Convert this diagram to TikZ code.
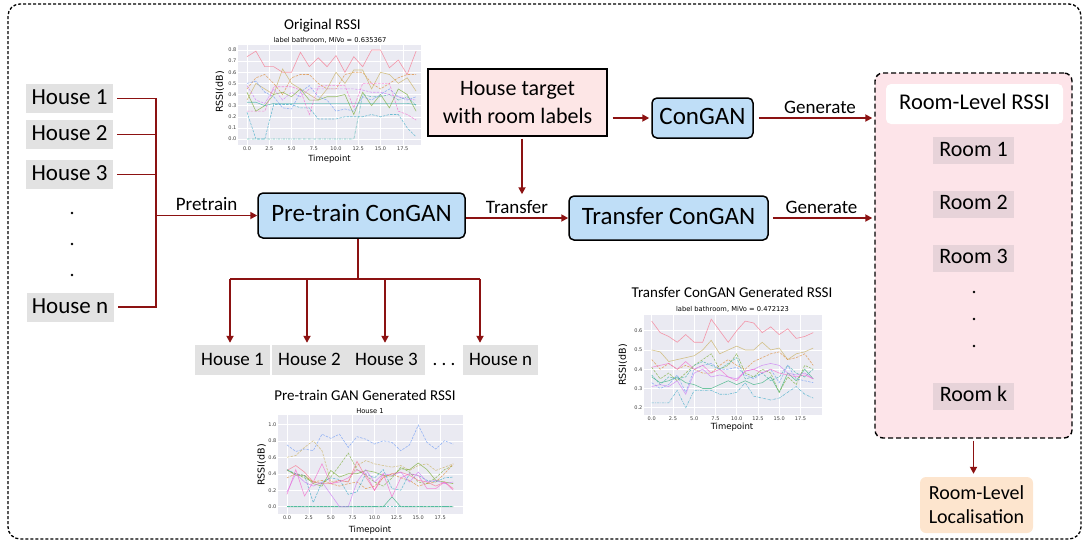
\documentclass[tikz,border=0pt]{standalone}
\usepackage{fontspec}
\setmainfont{Carlito}
\newfontfamily\mplfont{DejaVu Sans}
\usetikzlibrary{arrows.meta}
\definecolor{darkred}{RGB}{140,18,18}
\definecolor{housegray}{RGB}{226,226,226}
\definecolor{boxblue}{RGB}{191,222,247}
\definecolor{targetpink}{RGB}{253,230,230}
\definecolor{roompink}{RGB}{253,228,233}
\definecolor{roomitem}{RGB}{231,211,217}
\definecolor{locorange}{RGB}{253,229,206}
\definecolor{plotbg}{RGB}{234,234,242}
\definecolor{tickgray}{RGB}{60,60,60}
\definecolor{cA}{HTML}{F77189}
\definecolor{cB}{HTML}{DC8932}
\definecolor{cC}{HTML}{C8AE5A}
\definecolor{cD}{HTML}{77AB31}
\definecolor{cE}{HTML}{33B07A}
\definecolor{cF}{HTML}{36ADA4}
\definecolor{cG}{HTML}{38A9C5}
\definecolor{cH}{HTML}{6E9BF4}
\definecolor{cI}{HTML}{CC7AF4}
\definecolor{cJ}{HTML}{F565CC}
\newcommand\fsz[2]{\fontsize{#1}{#2}\selectfont}
\newcommand\rssiline[3]{\draw[#1] (0,#2) \foreach \v [count=\i] in {#3} { -- (\i,\v) };}
\tikzset{
  ln/.style={draw=darkred, line width=1.7pt},
  arr/.style={ln, -{Triangle[length=7pt,width=7pt]}},
  outerframe/.style={draw=black, line width=1.3pt, dash pattern=on 3pt off 2pt, rounded corners=12pt},
  hbig/.style={fill=housegray, minimum width=87pt, minimum height=29pt, inner sep=0pt, font=\fsz{23}{26}, text height=15pt, text depth=3pt},
  hsmall/.style={fill=housegray, minimum height=30pt, inner sep=0pt, font=\fsz{19}{22}, text height=13pt, text depth=3pt},
  bluebox/.style={draw=black, line width=1.5pt, fill=boxblue, rounded corners=5pt, inner sep=0pt, font=\fsz{25}{28}, text height=16pt, text depth=4pt},
  targetbox/.style={draw=black, line width=1.2pt, fill=targetpink, inner sep=0pt, minimum width=179pt, minimum height=67pt, align=center, font=\fsz{22}{28}},
  roomframe/.style={draw=black, line width=1.4pt, dash pattern=on 5pt off 3pt, fill=roompink, rounded corners=8pt, inner sep=0pt},
  rlrbox/.style={fill=white, rounded corners=5pt, minimum width=177pt, minimum height=40pt, inner sep=0pt, font=\fsz{22.5}{25}, text height=15pt, text depth=4pt},
  roomitembox/.style={fill=roomitem, minimum width=81pt, minimum height=27pt, inner sep=0pt, font=\fsz{22}{24}, text height=14pt, text depth=3pt},
  locbox/.style={fill=locorange, rounded corners=6pt, minimum width=113pt, minimum height=56pt, inner sep=0pt, align=center, font=\fsz{20}{24}},
  lbl/.style={font=\fsz{19}{22}, inner sep=1pt, above=3pt},
  ctitle/.style={font=\fsz{15}{17}, inner sep=0pt},
  csub/.style={font=\mplfont\fsz{6.7}{8}, inner sep=0pt},
  ctick/.style={font=\mplfont\fsz{5}{6}, text=tickgray, inner sep=1.5pt},
  caxis/.style={font=\mplfont\fsz{8.5}{10}, inner sep=0pt},
  cyaxis/.style={font=\mplfont\fsz{9.5}{10}, inner sep=0pt, rotate=90},
  grid/.style={draw=white, line width=0.5pt},
  sl/.style={line width=0.6pt, opacity=0.7},
  sd/.style={line width=0.6pt, opacity=0.7, dash pattern=on 2.5pt off 1.2pt},
  sdd/.style={line width=0.6pt, opacity=0.7, dash pattern=on 2.5pt off 1pt on 0.6pt off 1pt},
}
\begin{document}
\begin{tikzpicture}[x=1pt,y=-1pt]
\useasboundingbox (0,0) rectangle (1086,542);
\draw[outerframe] (8,4) rectangle (1081,539);

% ---------- left houses ----------
\node[hbig] (h1) at (69.5,98.5) {House 1};
\node[hbig] (h2) at (69.5,134.5) {House 2};
\node[hbig] (h3) at (69.5,174.5) {House 3};
\node[hbig] (hn) at (70,307) {House n};
\fill (72,213) circle (1.4pt);
\fill (72,244) circle (1.4pt);
\fill (72,275) circle (1.4pt);

% ---------- main boxes ----------
\node[bluebox, minimum width=207pt, minimum height=45pt] (pre) at (361.5,215.5) {Pre-train ConGAN};
\node[bluebox, minimum width=199pt, minimum height=44pt] (tcg) at (668.5,218) {Transfer ConGAN};
\node[bluebox, minimum width=101pt, minimum height=40pt] (cg) at (702.5,118) {ConGAN};
\node[targetbox] (tgt) at (517.5,102.5) {House target\\with room labels};

% ---------- room box ----------
\node[roomframe, minimum width=197pt, minimum height=365pt] (rb) at (973.5,255.5) {};
\node[rlrbox] (rlr) at (974.5,104) {Room-Level RSSI};
\node[roomitembox] (r1) at (973.5,150.5) {Room 1};
\node[roomitembox] (r2) at (973.5,204) {Room 2};
\node[roomitembox] (r3) at (973.5,258) {Room 3};
\node[roomitembox] (rk) at (973.5,396) {Room k};
\fill (974,292) circle (1.3pt);
\fill (974,319) circle (1.3pt);
\fill (974,346) circle (1.3pt);
\node[locbox] (loc) at (976.5,505) {Room-Level\\Localisation};

% ---------- bottom houses ----------
\node[hsmall, minimum width=75pt] (b1) at (232.5,360) {House 1};
\node[hsmall, minimum width=76pt] (b2) at (309.5,360) {House 2};
\node[hsmall, minimum width=77pt] (b3) at (386.5,360) {House 3};
\node[hsmall, fill=none, minimum width=30pt] (bd) at (444,360) {.\ .\ .};
\node[hsmall, minimum width=75pt] (bn) at (500.5,360) {House n};

% ---------- connectors ----------
\coordinate (bus) at (156,216);
\draw[ln] ([xshift=4pt]h1.east) -- (h1.east -| bus) -- (hn.east -| bus) -- ([xshift=4pt]hn.east);
\draw[ln] ([xshift=4pt]h2.east) -- (h2.east -| bus);
\draw[ln] ([xshift=4pt]h3.east) -- (h3.east -| bus);
\draw[arr] (bus |- pre.west) -- (pre.west) node[midway, lbl] {Pretrain};
\draw[arr] (pre.east |- tcg.west) -- (tcg.west) node[midway, lbl] {Transfer};
\draw[arr, shorten <=2pt, shorten >=1pt] ([xshift=4.5pt]tgt.south) -- ([xshift=4.5pt]tgt.south |- tcg.north);
\draw[arr, shorten <=5pt, shorten >=2pt] (tgt.east |- cg.west) -- (cg.west);
\draw[arr, shorten <=5pt, shorten >=2pt] (cg.east) -- (cg.east -| rb.west) node[pos=0.55, lbl] {Generate};
\draw[arr, shorten <=4pt, shorten >=2pt] (tcg.east) -- (tcg.east -| rb.west) node[midway, lbl] {Generate};
\draw[arr, shorten <=2pt, shorten >=3pt] (rb.south) -- (rb.south |- loc.north);

\coordinate (split) at (358,279);
\draw[ln] (pre.south -| split) -- (split);
\draw[ln] ([xshift=-2.5pt]b1.north |- split) -- ([xshift=-20.5pt]bn.north |- split);
\draw[arr, shorten >=2pt] ([xshift=-2.5pt]b1.north |- split) -- ([xshift=-2.5pt]b1.north);
\draw[arr, shorten >=2pt] ([xshift=-2.5pt]b2.north |- split) -- ([xshift=-2.5pt]b2.north);
\draw[arr, shorten >=2pt] ([xshift=-1.5pt]b3.north |- split) -- ([xshift=-1.5pt]b3.north);
\draw[arr, shorten >=2pt] ([xshift=-20.5pt]bn.north |- split) -- ([xshift=-20.5pt]bn.north);

% ---------- chart: Original RSSI ----------
\node[ctitle] (t1) at (322.5,26) {Original RSSI};
\node[csub] (s1) at (330,40.5) {label bathroom, MiVo = 0.635367};
\fill[plotbg] (238,45) rectangle (421,145);
\node[caxis] (x1) at (329.5,159) {Timepoint};
\node[cyaxis] (y1) at (220,92) {RSSI(dB)};
\begin{scope}[shift={(247,139)}, x=8.9pt, y=111.25pt]
  \foreach \v in {0.0,0.1,0.2,0.3,0.4,0.5,0.6,0.7,0.8} {
    \draw[grid] (-1.01,\v) -- (19.55,\v);
    \node[ctick, anchor=east] at (-1.01,\v) {\v};
  }
  \foreach \t in {0.0,2.5,5.0,7.5,10.0,12.5,15.0,17.5} {
    \draw[grid] (\t,-0.054) -- (\t,0.845);
    \node[ctick, anchor=north] at (\t,-0.054) {\t};
  }
  \rssiline{sl,cA}{0.74}{0.79,0.65,0.65,0.6,0.6,0.78,0.65,0.73,0.65,0.75,0.6,0.74,0.65,0.8,0.8,0.64,0.71,0.58,0.79}
  \rssiline{sd,cB}{0.45}{0.55,0.58,0.5,0.4,0.55,0.58,0.58,0.5,0.45,0.45,0.58,0.6,0.6,0.5,0.45,0.5,0.55,0.58,0.58}
  \rssiline{sl,cC}{0.35}{0.5,0.45,0.4,0.63,0.5,0.45,0.4,0.35,0.45,0.6,0.5,0.62,0.62,0.45,0.6,0.58,0.5,0.55,0.43}
  \rssiline{sl,cD}{0.42}{0.25,0.3,0.4,0.42,0.38,0.45,0.35,0.35,0.38,0.38,0.4,0.22,0.42,0.3,0.4,0.28,0.45,0.4,0.25}
  \rssiline{sl,cF}{0.33}{0.33,0.3,0.32,0.32,0.32,0.32,0.32,0.32,0.32,0.32,0.32,0.32,0.32,0.32,0.32,0.32,0.32,0.32,0.31}
  \rssiline{sdd,cF}{0.0}{0.0,0.0,0.0,0.0,0.0,0.0,0.0,0.0,0.0,0.0,0.0,0.0,0.4,0.38,0.38,0.4,0.35,0.38,0.3}
  \rssiline{sd,cG}{0.24}{0.0,0.0,0.31,0.31,0.31,0.28,0.28,0.18,0.18,0.18,0.2,0.2,0.2,0.22,0.2,0.22,0.22,0.1,0.02}
  \rssiline{sd,cH}{0.5}{0.52,0.42,0.38,0.28,0.27,0.42,0.48,0.38,0.35,0.25,0.27,0.25,0.38,0.35,0.4,0.45,0.38,0.35,0.38}
  \rssiline{sd,cI}{0.48}{0.35,0.32,0.45,0.35,0.42,0.38,0.45,0.45,0.45,0.45,0.45,0.45,0.44,0.42,0.42,0.4,0.38,0.36,0.35}
  \rssiline{sd,cJ}{0.25}{0.25,0.25,0.47,0.47,0.47,0.44,0.22,0.47,0.48,0.48,0.48,0.28,0.5,0.5,0.5,0.5,0.25,0.22,0.17}
\end{scope}

% ---------- chart: Pre-train GAN Generated RSSI ----------
\node[ctitle] (t2) at (365,395.5) {Pre-train GAN Generated RSSI};
\node[csub] (s2) at (370,411) {House 1};
\fill[plotbg] (278,415) rectangle (463,514);
\node[caxis] (x2) at (370,530) {Timepoint};
\node[cyaxis] (y2) at (261.7,465) {RSSI(dB)};
\begin{scope}[shift={(287,506.7)}, x=8.75pt, y=82.4pt]
  \foreach \v in {0.0,0.2,0.4,0.6,0.8,1.0} {
    \draw[grid] (-1.03,\v) -- (20.1,\v);
    \node[ctick, anchor=east] at (-1.03,\v) {\v};
  }
  \foreach \t in {0.0,2.5,5.0,7.5,10.0,12.5,15.0,17.5} {
    \draw[grid] (\t,-0.089) -- (\t,1.11);
    \node[ctick, anchor=north] at (\t,-0.089) {\t};
  }
  \rssiline{sd,cH}{0.75}{0.67,0.7,0.68,0.88,0.83,0.88,0.72,0.85,0.82,0.76,0.8,0.78,0.68,0.75,0.99,0.78,0.7,0.8,0.76}
  \rssiline{sd,cC}{0.6}{0.62,0.72,0.8,0.68,0.3,0.32,0.3,0.5,0.56,0.52,0.5,0.48,0.5,0.44,0.5,0.52,0.44,0.48,0.52}
  \rssiline{sl,cD}{0.45}{0.38,0.38,0.28,0.25,0.44,0.36,0.4,0.4,0.44,0.42,0.38,0.37,0.46,0.45,0.53,0.45,0.32,0.3,0.28}
  \rssiline{sd,cD}{0.44}{0.4,0.35,0.3,0.28,0.36,0.5,0.65,0.45,0.38,0.3,0.25,0.35,0.48,0.42,0.3,0.28,0.35,0.45,0.5}
  \rssiline{sl,cA}{0.44}{0.5,0.42,0.3,0.28,0.28,0.32,0.3,0.55,0.36,0.2,0.36,0.4,0.42,0.38,0.32,0.3,0.25,0.3,0.22}
  \rssiline{sd,cB}{0.35}{0.4,0.38,0.3,0.32,0.28,0.25,0.28,0.3,0.22,0.25,0.35,0.4,0.35,0.32,0.25,0.28,0.3,0.4,0.52}
  \rssiline{sd,cF}{0.0}{0.0,0.0,0.0,0.0,0.0,0.0,0.0,0.0,0.0,0.0,0.0,0.0,0.0,0.0,0.0,0.0,0.0,0.0,0.0}
  \rssiline{sl,cE}{0.0}{0.0,0.0,0.0,0.0,0.0,0.0,0.0,0.0,0.0,0.0,0.0,0.12,0.0,0.0,0.0,0.0,0.0,0.0,0.0}
  \rssiline{sd,cG}{0.45}{0.4,0.38,0.05,0.3,0.35,0.33,0.15,0.18,0.4,0.35,0.45,0.22,0.2,0.4,0.38,0.32,0.3,0.35,0.36}
  \rssiline{sl,cI}{0.18}{0.4,0.3,0.25,0.3,0.15,0.0,0.0,0.3,0.45,0.3,0.4,0.38,0.42,0.3,0.42,0.3,0.32,0.28,0.3}
  \rssiline{sl,cJ}{0.15}{0.45,0.13,0.3,0.52,0.28,0.3,0.35,0.45,0.4,0.2,0.4,0.12,0.35,0.4,0.38,0.22,0.22,0.3,0.2}
\end{scope}

% ---------- chart: Transfer ConGAN Generated RSSI ----------
\node[ctitle] (t3) at (732,292) {Transfer ConGAN Generated RSSI};
\node[csub] (s3) at (732.5,309) {label bathroom, MiVo = 0.472123};
\fill[plotbg] (644,315) rectangle (822,415);
\node[caxis] (x3) at (732,427) {Timepoint};
\node[cyaxis] (y3) at (623,365) {RSSI(dB)};
\begin{scope}[shift={(651.7,446.2)}, x=8.5pt, y=192.5pt]
  \foreach \v in {0.2,0.3,0.4,0.5,0.6} {
    \draw[grid] (-0.9,\v) -- (20.0,\v);
    \node[ctick, anchor=east] at (-0.9,\v) {\v};
  }
  \foreach \t in {0.0,2.5,5.0,7.5,10.0,12.5,15.0,17.5} {
    \draw[grid] (\t,0.162) -- (\t,0.681);
    \node[ctick, anchor=north] at (\t,0.162) {\t};
  }
  \rssiline{sl,cA}{0.65}{0.59,0.57,0.54,0.58,0.54,0.54,0.66,0.6,0.54,0.6,0.65,0.64,0.59,0.62,0.58,0.61,0.56,0.57,0.59}
  \rssiline{sl,cC}{0.5}{0.49,0.44,0.45,0.46,0.47,0.5,0.55,0.48,0.5,0.52,0.5,0.5,0.54,0.5,0.51,0.45,0.48,0.49,0.51}
  \rssiline{sd,cB}{0.45}{0.4,0.43,0.4,0.42,0.4,0.38,0.38,0.42,0.45,0.42,0.4,0.44,0.46,0.48,0.49,0.45,0.46,0.48,0.42}
  \rssiline{sl,cE}{0.36}{0.33,0.34,0.36,0.33,0.32,0.3,0.3,0.32,0.34,0.32,0.34,0.32,0.33,0.36,0.28,0.38,0.34,0.4,0.35}
  \rssiline{sd,cD}{0.41}{0.35,0.38,0.34,0.38,0.42,0.45,0.48,0.4,0.42,0.48,0.38,0.36,0.4,0.38,0.28,0.36,0.32,0.42,0.4}
  \rssiline{sd,cF}{0.37}{0.32,0.36,0.35,0.36,0.42,0.44,0.42,0.4,0.43,0.46,0.35,0.36,0.38,0.34,0.36,0.42,0.38,0.36,0.4}
  \rssiline{sdd,cG}{0.225}{0.225,0.225,0.29,0.2,0.29,0.29,0.29,0.27,0.27,0.28,0.33,0.26,0.25,0.24,0.25,0.28,0.31,0.27,0.25}
  \rssiline{sd,cH}{0.33}{0.3,0.32,0.37,0.28,0.4,0.42,0.43,0.4,0.4,0.41,0.37,0.35,0.38,0.4,0.33,0.42,0.35,0.34,0.33}
  \rssiline{sl,cI}{0.31}{0.32,0.31,0.34,0.27,0.38,0.4,0.36,0.37,0.36,0.35,0.39,0.4,0.42,0.43,0.42,0.38,0.37,0.38,0.35}
  \rssiline{sl,cJ}{0.41}{0.42,0.43,0.4,0.44,0.4,0.42,0.38,0.4,0.36,0.34,0.39,0.4,0.38,0.4,0.38,0.37,0.36,0.37,0.35}
\end{scope}
\end{tikzpicture}
\end{document}
